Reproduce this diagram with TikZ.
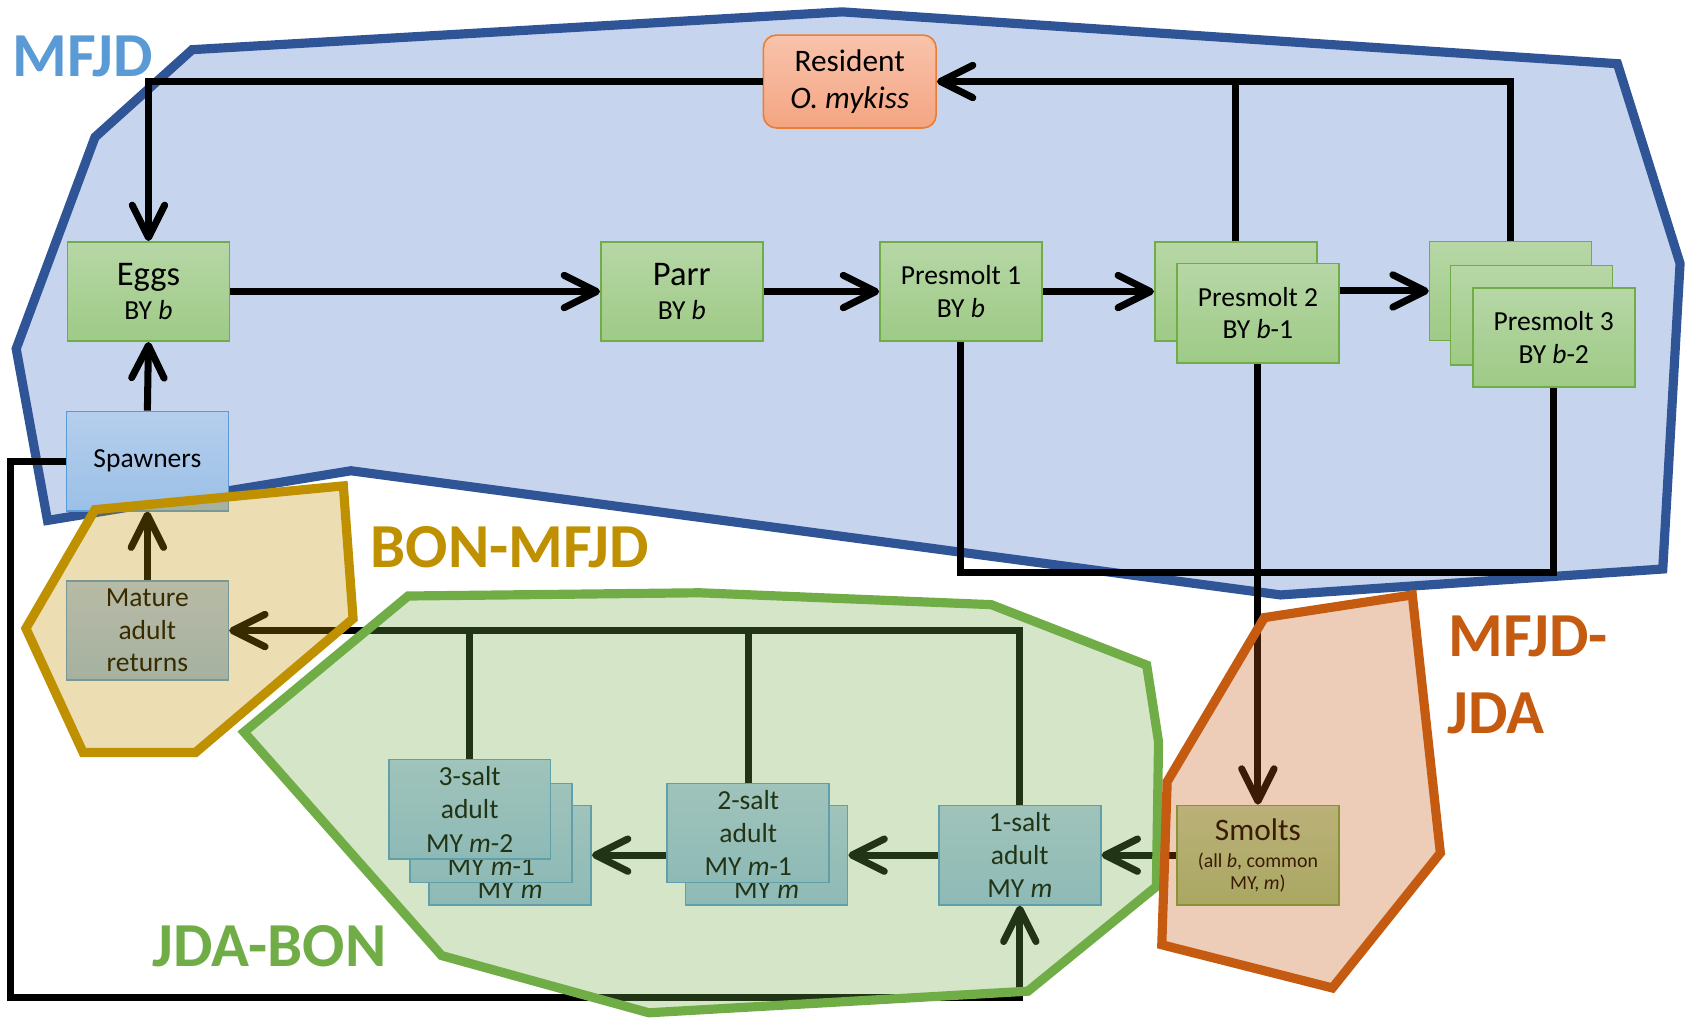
\documentclass[tikz,border=0pt]{standalone}
\usepackage{fontspec}
\setmainfont{Carlito}
\usetikzlibrary{arrows.meta}

% zone colours
\definecolor{mfjdline}{RGB}{47,85,151}
\definecolor{mfjdfill}{RGB}{68,114,196}
\definecolor{mfjdtext}{RGB}{91,155,213}
\definecolor{bongold}{RGB}{191,144,0}
\definecolor{jdagreen}{RGB}{112,173,71}
\definecolor{rust}{RGB}{197,90,17}
% box colours
\definecolor{grtop}{RGB}{183,215,166}
\definecolor{grbot}{RGB}{158,202,134}
\definecolor{grline}{RGB}{112,173,71}
\definecolor{bltop}{RGB}{181,206,237}
\definecolor{blbot}{RGB}{155,192,231}
\definecolor{blline}{RGB}{91,155,213}
\definecolor{ortop}{RGB}{249,195,172}
\definecolor{orbot}{RGB}{244,165,130}
\definecolor{orline}{RGB}{237,125,49}

\tikzset{
  stage/.style={rectangle, minimum width=75pt, minimum height=46pt, inner sep=0pt,
    align=center, line width=0.75pt, font=\fontsize{12.75pt}{15pt}\selectfont},
  greenbox/.style={stage, draw=grline, top color=grtop, bottom color=grbot},
  bluebox/.style={stage, draw=blline, top color=bltop, bottom color=blbot},
  saltbox/.style={bluebox, font=\fontsize{12.75pt}{15.4pt}\selectfont},
  hiddenline/.style={anchor=base, inner sep=0pt, font=\fontsize{12.75pt}{15.4pt}\selectfont},
  flow/.style={line width=3.25pt, draw=black},
  flowto/.style={flow, -{Straight Barb[length=15pt,width=15pt,round]}},
  zone/.style={line width=4.25pt, line join=miter, fill opacity=0.3},
  zonelabel/.style={font=\fontsize{29pt}{29pt}\selectfont\bfseries, anchor=base west, inner sep=0pt},
}

\begin{document}
\begin{tikzpicture}[x=0.5pt, y=-0.5pt]
\useasboundingbox (0,0) rectangle (1568,942);

% Middle Fork John Day zone (underneath everything)
\draw[zone, draw=mfjdline, fill=mfjdfill]
  (178,46) -- (780,11) -- (1498,59) -- (1556,244) -- (1540,527) -- (1186,551)
  -- (325,436) -- (44,482) -- (15,323) -- (88,127) -- cycle;

% freshwater stages
\node[greenbox] (eggs) at (137.5,270) {{\fontsize{16pt}{16.5pt}\selectfont Eggs}\\[1pt]BY \textit{b}};
\node[greenbox] (parr) at (631.5,270) {{\fontsize{16pt}{16.5pt}\selectfont Parr}\\[1pt]BY \textit{b}};
\node[greenbox] (pre1) at (890,270) {Presmolt 1\\BY \textit{b}};
\node[greenbox] (pre2b) at (1144.5,270) {};
\node[greenbox] (pre2f) at (1165,290) {Presmolt 2\\BY \textit{b}-1};
\node[greenbox] (pre3b) at (1399,269.5) {};
\node[greenbox] (pre3m) at (1418.5,292) {};
\node[greenbox] (pre3f) at (1439,312.5) {Presmolt 3\\BY \textit{b}-2};

\node[stage, minimum width=80pt, minimum height=43pt, rounded corners=6pt,
      draw=orline, top color=ortop, bottom color=orbot,
      font=\fontsize{14.5pt}{17.3pt}\selectfont] (resident) at (787,75.5)
      {Resident\\\textit{O. mykiss}};

\node[bluebox] (spawn) at (136.5,427) {Spawners};
\node[bluebox] (mature) at (136.5,584) {Mature\\adult\\returns};

% ocean stages
\node[saltbox] (salt3b) at (472.5,792) {};
\node[hiddenline] (salt3b-my) at ([yshift=3.5pt]salt3b.south) {MY \textit{m}};
\node[saltbox] (salt3m) at (455,771.5) {};
\node[hiddenline] (salt3m-my) at ([yshift=3.5pt]salt3m.south) {MY \textit{m}-1};
\node[saltbox] (salt3f) at (435,749.5) {3-salt\\adult\\MY \textit{m}-2};
\node[saltbox] (salt2b) at (710,792) {};
\node[hiddenline] (salt2b-my) at ([yshift=3.5pt]salt2b.south) {MY \textit{m}};
\node[saltbox] (salt2f) at (693,771.5) {2-salt\\adult\\MY \textit{m}-1};
\node[saltbox] (salt1) at (944.5,792) {1-salt\\adult\\MY \textit{m}};

\node[greenbox, font=\fontsize{9.2pt}{10.5pt}\selectfont] (smolts) at (1165,792)
  {\rule{0pt}{4pt}\\[-4pt]{\fontsize{14.5pt}{14.5pt}\selectfont Smolts}\\[2pt](all \textit{b}, common\\MY, \textit{m})};

% freshwater connectors
\draw[flowto] (eggs.east) -- (parr.west);
\draw[flowto] (parr.east) -- (pre1.west);
\draw[flowto] (pre1.east) -- (pre2b.west);
\draw[flowto] (pre2f.east |- pre3b.west) -- (pre3b.west);
\draw[flowto] (pre3b.north) |- (resident.east);
\draw[flow] (pre2b.north) -- (pre2b.north |- resident.east);
\draw[flowto] (resident.west) -| (eggs.north);
\draw[flowto] (spawn.north) -- (eggs.south);
\coordinate (presbase) at (0,530);
\draw[flow] (pre1.south) |- (pre3f.south |- presbase) -- (pre3f.south);
\draw[flowto] (pre2f.south) -- (smolts.north);

% spawners back into the ocean stages
\coordinate (leftrail) at (10,0);
\coordinate (bottomrail) at (0,924);
\draw[flowto] (spawn.west) -- (leftrail |- spawn.west) |- (salt1.south |- bottomrail) -- (salt1.south);

% ocean connectors
\draw[flowto] (smolts.west) -- (salt1.east);
\draw[flowto] (salt1.west) -- (salt2b.east);
\draw[flowto] (salt2f.west |- salt3b.east) -- (salt3b.east);
\draw[flowto] (salt1.north) |- (mature.east);
\draw[flow] (salt3f.north) -- (salt3f.north |- mature.east);
\draw[flow] (salt2f.north) -- (salt2f.north |- mature.east);
\draw[flowto] (mature.north) -- (spawn.south);

% translucent migration zones
\draw[zone, draw=bongold, fill=bongold]
  (88,472) -- (318,450) -- (327,573) -- (181,697) -- (77,697) -- (24,582) -- cycle;
\draw[zone, draw=jdagreen, fill=jdagreen]
  (378,552) -- (648,549) -- (918,560) -- (1062,616) -- (1073,687) -- (1071,821)
  -- (952,918) -- (601,938) -- (409,885) -- (226,678) -- cycle;
\draw[zone, draw=rust, fill=rust]
  (1171,572) -- (1308,551) -- (1334,790) -- (1234,915) -- (1076,875) -- (1081,724) -- cycle;

% zone names
\node[zonelabel, text=mfjdtext] (lab-mfjd) at (11,71) {MFJD};
\node[zonelabel, text=bongold] (lab-bon) at (343,526) {BON-MFJD};
\node[zonelabel, text=jdagreen] (lab-jda) at (141,895) {JDA-BON};
\node[zonelabel, text=rust] (lab-mj1) at (1341,608) {MFJD-};
\node[zonelabel, text=rust] (lab-mj2) at (1340,679) {JDA};
\end{tikzpicture}
\end{document}
